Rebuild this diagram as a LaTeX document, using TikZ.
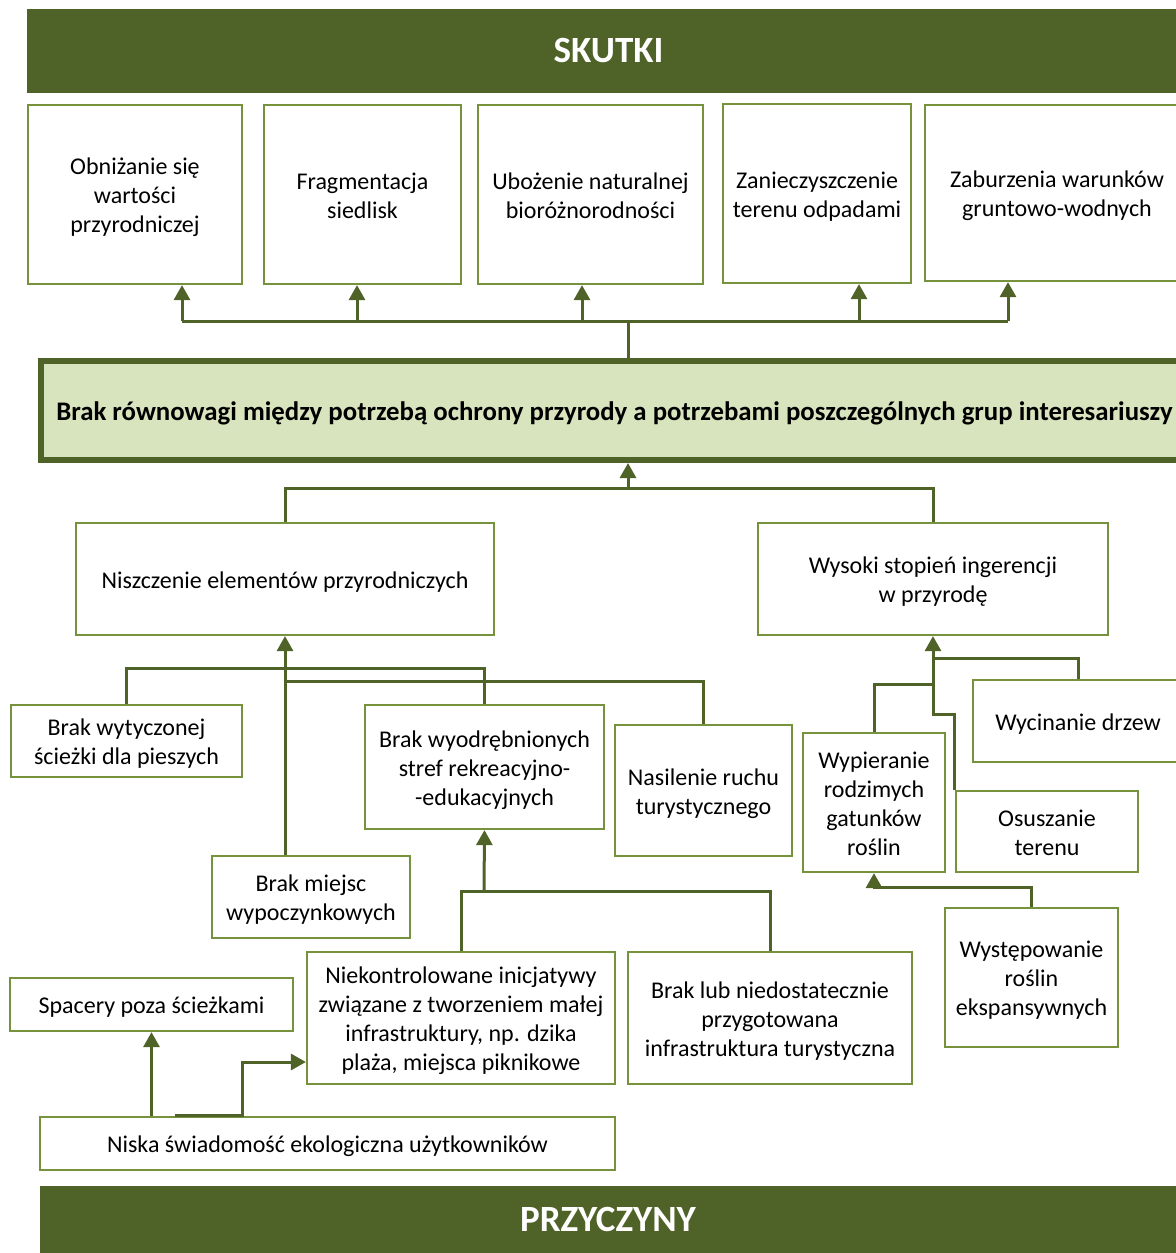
\documentclass[tikz,border=0pt]{standalone}
\usepackage{fontspec}
\usepackage{array}
\setmainfont{Carlito}
\usetikzlibrary{arrows.meta}
\usetikzlibrary{positioning}
\definecolor{ciemny}{HTML}{4F6228}
\definecolor{ramka}{HTML}{76923C}
\definecolor{jasny}{HTML}{D7E4BD}
\newcommand\podpora{\rule[-0.217em]{0pt}{1.208em}}
\renewcommand\arraystretch{0}
\newcommand\linie[1]{\begin{tabular}{@{}>{\podpora}c@{}}#1\end{tabular}}

\begin{document}
\begin{tikzpicture}[x=0.5pt,y=-0.5pt,>={Triangle[width=8pt,length=7.5pt]},
					font=\fontsize{12}{14.5}\selectfont,
					wh/.style 2 args={minimum width=#1*0.5pt,minimum height=#2*0.5pt}]
					\tikzstyle{box}=[draw=ramka,line width=1.1pt,fill=white,inner sep=0pt]
					\tikzstyle{bar}=[fill=ciemny,text=white,inner sep=0pt,font=\fontsize{18.5}{22}\selectfont\bfseries]
					\tikzstyle{line}=[draw=ciemny,line width=1.5pt]
					
					\clip (0,0) rectangle (1176,1253);
					
					% naglowki
					\node[bar,wh={1163}{84}]  (skutki)    at (608.5,51)    {SKUTKI};
					\node[bar,wh={1136}{67}]  (przyczyny) at (608,1219.5)  {PRZYCZYNY};
					
					% skutki
					\node[box,wh={214}{179}]  (obn)  at (135,194.5)   {\linie{Obniżanie się\\wartości\\przyrodniczej}};
					\node[box,wh={197}{179}]  (frag) at (362.5,194.5) {\linie{Fragmentacja\\siedlisk}};
					\node[box,wh={225}{179}]  (ubo)  at (590.5,194.5) {\linie{Ubożenie naturalnej\\bioróżnorodności}};
					\node[box,wh={188}{179}]  (zan)  at (817,193.5)   {\linie{Zanieczyszczenie\\terenu odpadami}};
					\node[box,wh={264}{176}]  (zab)  at (1057,193)    {\linie{Zaburzenia warunków\\gruntowo-wodnych}};
					
					% problem glowny
					\node[box,draw=ciemny,fill=jasny,line width=3pt,wh={1147}{99},font=\fontsize{13.4}{16}\selectfont\bfseries]
					(glowny) at (614.5,410.5) {\linie{Brak równowagi między potrzebą ochrony przyrody a potrzebami poszczególnych grup interesariuszy}};
					
					% przyczyny
					\node[box,wh={418}{112}]  (niszcz) at (285,579)    {\linie{Niszczenie elementów przyrodniczych}};
					\node[box,wh={350}{112}]  (wysoki) at (933,579)    {\linie{Wysoki stopień ingerencji\\w przyrodę}};
					\node[box,wh={231}{72}]   (bwyt)   at (126.5,741)  {\linie{Brak wytyczonej\\ścieżki dla pieszych}};
					\node[box,wh={198}{82}]   (bmie)   at (311,897)    {\linie{Brak miejsc\\wypoczynkowych}};
					\node[box,wh={239}{124}]  (bwyo)   at (484.5,767)  {\linie{Brak wyodrębnionych\\stref rekreacyjno-\\-edukacyjnych}};
					\node[box,wh={177}{131}]  (nas)    at (703.5,790.5) {\linie{Nasilenie ruchu\\turystycznego}};
					\node[box,wh={210}{82}]   (wyc)    at (1078,721)   {\linie{Wycinanie drzew}};
					\node[box,wh={142}{139}]  (wyp)    at (874,802.5)  {\linie{Wypieranie\\rodzimych\\gatunków\\roślin}};
					\node[box,wh={182}{81}]   (osu)    at (1047,831.5) {\linie{Osuszanie\\terenu}};
					\node[box,wh={173}{139}]  (wys)    at (1031.5,977.5) {\linie{Występowanie\\roślin\\ekspansywnych}};
					\node[box,wh={308}{132}]  (niek)   at (461,1018)   {\linie{Niekontrolowane inicjatywy\\związane z tworzeniem małej\\infrastruktury, np. dzika\\plaża, miejsca piknikowe}};
					\node[box,wh={284}{132}]  (blub)   at (770,1018)   {\linie{Brak lub niedostatecznie\\przygotowana\\infrastruktura turystyczna}};
					\node[box,wh={283}{53}]   (spa)    at (151.5,1004.5) {\linie{Spacery poza ścieżkami}};
					\node[box,wh={575}{53}]   (nis)    at (327.5,1143.5) {\linie{Niska świadomość ekologiczna użytkowników}};
					
					% punkty wezlowe
					\coordinate (s0) at (628,321);
					\coordinate (s1) at (182,321);
					\coordinate (s2) at (357,321);
					\coordinate (s3) at (582,321);
					\coordinate (s4) at (859,321);
					\coordinate (s5) at (1008,321);
					\coordinate (p0) at (628,490);
					\coordinate (n2) at (285,681);
					\coordinate (k1) at (933,658);
					\coordinate (k2) at (933,684);
					\coordinate (k3) at (933,714);
					\coordinate (r1) at (484,891);
					\coordinate (u1) at ([xshift=68pt]nis.north west);
					\coordinate (u2) at (242,1062);
					
					% skutki
					\draw[line] (glowny.north -| s0) -- (s0);
					\draw[line] (s1) -- (s5);
					\draw[line,->] (s1) -- (obn.south -| s1);
					\draw[line,->] (s2) -- (frag.south -| s2);
					\draw[line,->] (s3) -- (ubo.south -| s3);
					\draw[line,->] (s4) -- (zan.south -| s4);
					\draw[line,->] (s5) -- (zab.south -| s5);
					
					% przyczyny
					\draw[line] (niszcz.north) -- ++(0,-33) -| (wysoki.north);
					\draw[line,->] (p0) -- (glowny.south -| p0);
					\draw[line] (bwyt.north) -- ++(0,-35) -| (bwyo.north);
					\draw[line] (nas.north) |- (n2);
					\draw[line,->] (bmie.north -| niszcz.south) -- (niszcz.south);
					\draw[line] (wyc.north) |- (k1);
					\draw[line] (wyp.north) |- (k2);
					\draw[line,->] (osu.north west) |- (k3) -- (wysoki.south);
					\draw[line,->] (wys.north) -- ++(0,-19) -| (wyp.south);
					\draw[line] (niek.north) |- (r1);
					\draw[line] (blub.north) |- (r1);
					\draw[line,->] (r1) -- (bwyo.south);
					\draw[line,->] (spa.south |- nis.north) -- (spa.south);
					\draw[line,->] (u1) -| (u2) -- (niek.west |- u2);
					
					
					\end{tikzpicture}
\end{document}
